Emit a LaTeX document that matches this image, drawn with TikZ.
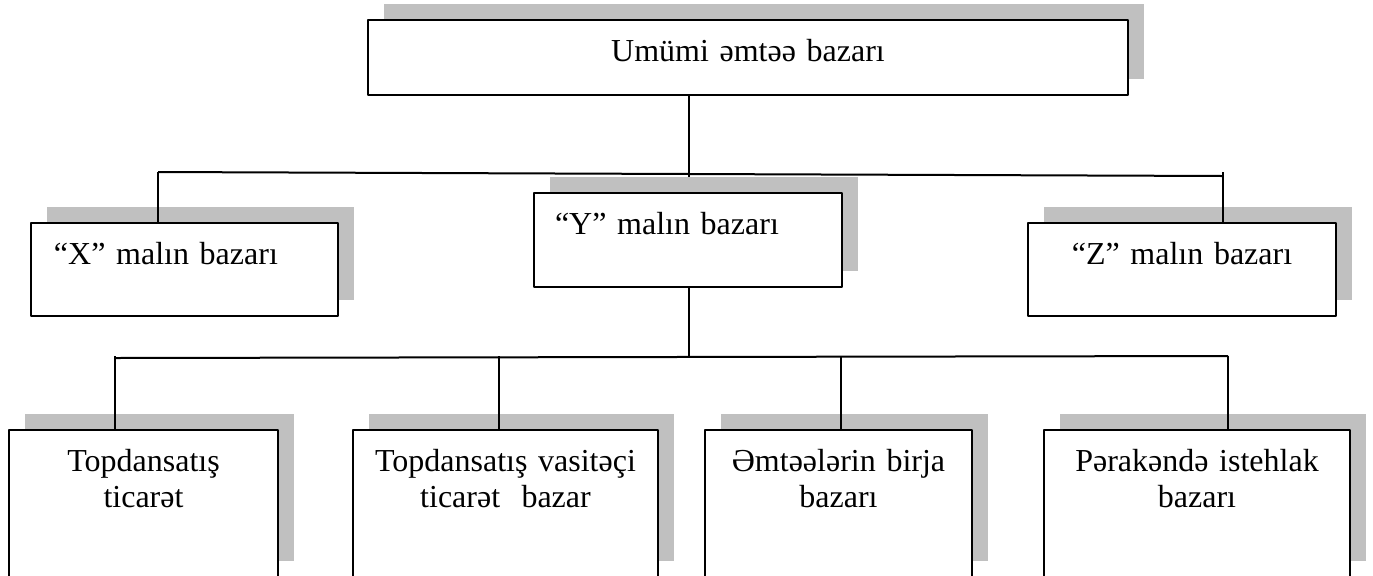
\documentclass[tikz,border=0pt]{standalone}
\usepackage{fontspec}
\setmainfont{Liberation Serif}
\usetikzlibrary{shadows}
\definecolor{shadowgray}{RGB}{192,192,192}
\tikzset{
  market/.style={draw,fill=white,line width=1pt,anchor=north west,inner xsep=4pt,inner ysep=0pt,
    text height=20.5pt,align=center,font=\fontsize{16}{18.4}\selectfont,
    general shadow={fill=shadowgray,shadow xshift=8pt,shadow yshift=8pt}},
  link/.style={line width=1pt}
}
\begin{document}
\begin{tikzpicture}[x=0.5pt,y=-0.5pt,line join=round]
\useasboundingbox (0,0) rectangle (1373,575);
% top level
\node[market,text width=372pt,text depth=17pt] (total) at (367,19) {Umümi əmtəə bazarı};
% goods markets
\node[market,inner xsep=11.5pt,text width=130.5pt,text depth=26pt,align=left] (mX) at (30,222) {“X” malın bazarı};
\node[market,inner xsep=10.5pt,text width=133pt,text depth=26.5pt,align=left] (mY) at (533,192) {“Y” malın bazarı};
\node[market,text width=146pt,text depth=26pt] (mZ) at (1027,222) {“Z” malın bazarı};
% kinds of market
\node[market,text width=126.5pt,text depth=53pt] (wholesale) at (8,429) {Topdansatış\\ticarət};
\node[market,text width=144.5pt,text depth=53pt] (broker) at (352,429) {Topdansatış vasitəçi\\ticarət\ \ bazar};
\node[market,text width=125.5pt,text depth=53pt] (exchange) at (704,429) {Əmtəələrin birja\\bazarı};
\node[market,text width=145pt,text depth=53pt] (retail) at (1043,429) {Pərakəndə istehlak\\bazarı};
% upper bus
\coordinate (upL) at (158,172);
\coordinate (upM) at (689,177);
\coordinate (upR) at (1223,176);
\draw[link] (upL) -- (upR);
\draw[link] (total.south -| upM) -- (upM);
\draw[link] (upL) -- (upL |- mX.north);
\draw[link] (upR |- upL) -- (upR |- mZ.north);
% lower bus
\coordinate (loL) at (115,358);
\coordinate (loR) at (1228,356);
\draw[link] (loL) -- (loR);
\draw[link] (mY.south -| upM) -- (upM |- loL);
\foreach \kind/\xpos in {wholesale/115,broker/499,exchange/841,retail/1228}
  \draw[link] (\xpos,356) -- (\kind.north -| \xpos,0);
\end{tikzpicture}
\end{document}
